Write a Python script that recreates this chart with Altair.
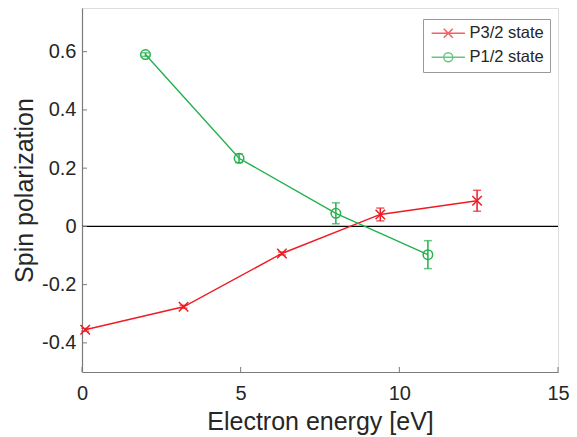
import altair as alt
import pandas as pd

# ---- data ----
series_names = ["P3/2 state", "P1/2 state"]
series_colors = ["#ed1c24", "#22b14c"]

p32_x = [0.1, 3.2, 6.3, 9.4, 12.45]
p32_y = [-0.355, -0.276, -0.093, 0.041, 0.088]
p32_err = [0.005, 0.005, 0.005, 0.022, 0.036]

p12_x = [2.0, 4.95, 8.0, 10.9]
p12_y = [0.59, 0.234, 0.045, -0.097]
p12_err = [0.006, 0.015, 0.036, 0.048]

x_ticks = [0, 5, 10, 15]
y_ticks = [-0.4, -0.2, 0, 0.2, 0.4, 0.6]
x_domain = [0, 15]
y_domain = [-0.5, 0.75]

# ---- tables ----
rows = []
for name, xs, ys, es in [(series_names[0], p32_x, p32_y, p32_err),
                         (series_names[1], p12_x, p12_y, p12_err)]:
    for i, (x, y, e) in enumerate(zip(xs, ys, es)):
        rows.append({"series": name, "order": i, "x": x, "y": y,
                     "lo": y - e, "hi": y + e})
df = pd.DataFrame(rows)
zero_df = pd.DataFrame({"y": [0]})
xt_df = pd.DataFrame({"x": x_ticks})
yt_df = pd.DataFrame({"y": y_ticks})

W, H = 476, 364
FONT = "Liberation Sans"
TXT = "#262626"
AX = "#7a7a7a"

xs = alt.Scale(domain=x_domain, nice=False, zero=False)
ys = alt.Scale(domain=y_domain, nice=False, zero=False)

x_axis = alt.Axis(values=x_ticks, tickSize=0, grid=False, domainColor=AX,
                  domainWidth=1.2, labelFont=FONT, labelFontSize=20,
                  labelColor=TXT, labelPadding=11, labelFlush=False,
                  title="Electron energy [eV]",
                  titleFont=FONT, titleFontSize=25, titleFontWeight="normal",
                  titleColor=TXT, titleBaseline="alphabetic", titleY=57)
y_axis = alt.Axis(values=y_ticks, tickSize=0, grid=False, domainColor=AX,
                  domainWidth=1.2, labelFont=FONT, labelFontSize=20,
                  labelColor=TXT, labelPadding=6, labelExpr="'' + datum.value",
                  title="Spin polarization", titleFont=FONT, titleFontSize=25,
                  titleFontWeight="normal", titleColor=TXT,
                  titleBaseline="alphabetic", titleX=-50, titleY=H / 2)

color_nolegend = alt.Color("series:N", scale=alt.Scale(domain=series_names, range=series_colors), legend=None)

base = alt.Chart(df)

zero_line = alt.Chart(zero_df).mark_rule(color="black", strokeWidth=1.3).encode(
    y=alt.Y("y:Q", scale=ys, axis=y_axis)
)

xtick_layer = alt.Chart(xt_df).mark_rule(color=AX, strokeWidth=1).encode(
    x=alt.X("x:Q", scale=xs, axis=x_axis),
    y=alt.value(H), y2=alt.value(H - 5)
)
ytick_layer = alt.Chart(yt_df).mark_rule(color=AX, strokeWidth=1).encode(
    y=alt.Y("y:Q", scale=ys),
    x=alt.value(0), x2=alt.value(5)
)

lines = base.mark_line(strokeWidth=1.4).encode(
    x=alt.X("x:Q", scale=xs),
    y=alt.Y("y:Q", scale=ys),
    color=color_nolegend,
    detail="series:N",
    order="order:Q",
)

err_rules = base.mark_rule(strokeWidth=1.5).encode(
    x=alt.X("x:Q", scale=xs),
    y=alt.Y("lo:Q", scale=ys),
    y2="hi:Q",
    color=color_nolegend,
)
cap_lo = base.mark_tick(orient="horizontal", size=8, thickness=1.5).encode(
    x=alt.X("x:Q", scale=xs), y=alt.Y("lo:Q", scale=ys), color=color_nolegend)
cap_hi = base.mark_tick(orient="horizontal", size=8, thickness=1.5).encode(
    x=alt.X("x:Q", scale=xs), y=alt.Y("hi:Q", scale=ys), color=color_nolegend)

cross_path = "M-1,-1L1,1M-1,1L1,-1"
points = base.mark_point(filled=False, strokeWidth=1.5, size=90, opacity=1).encode(
    x=alt.X("x:Q", scale=xs),
    y=alt.Y("y:Q", scale=ys),
    color=color_nolegend,
    shape=alt.Shape("series:N", scale=alt.Scale(domain=series_names, range=[cross_path, "circle"]), legend=None),
)

# legend-only layer (no marks drawn)
leg_cross = "M-1,-1L1,1M-1,1L1,-1M-3.7,0L3.7,0"
leg_circle = "M-3.7,0L3.7,0M1,0A1,1 0 1,1 -1,0A1,1 0 1,1 1,0"
legend = alt.Legend(orient="none", legendX=341, legendY=11, title=None,
                    padding=6, strokeColor="#999", fillColor="white",
                    labelFont=FONT, labelFontSize=16.5, labelColor=TXT,
                    symbolSize=81, symbolStrokeWidth=1.5, symbolOffset=11,
                    labelOffset=13, rowPadding=7)
legend_layer = base.transform_filter("false").mark_point(filled=False, strokeWidth=1.5).encode(
    x=alt.X("x:Q", scale=xs),
    y=alt.Y("y:Q", scale=ys),
    color=alt.Color("series:N", scale=alt.Scale(domain=series_names, range=series_colors), legend=legend),
    shape=alt.Shape("series:N", scale=alt.Scale(domain=series_names, range=[leg_cross, leg_circle]), legend=legend),
)

chart = alt.layer(
    zero_line, xtick_layer, ytick_layer, lines, err_rules, cap_lo, cap_hi, points, legend_layer
).resolve_scale(
    color="independent", shape="independent"
).properties(
    width=W, height=H,
    autosize=alt.AutoSizeParams(type="none"),
    padding={"left": 74, "top": 0, "right": 11, "bottom": 64},
).configure_view(stroke=None).configure(background="white")

chart.save("out.html", embed_options={"renderer": "svg", "actions": False})
